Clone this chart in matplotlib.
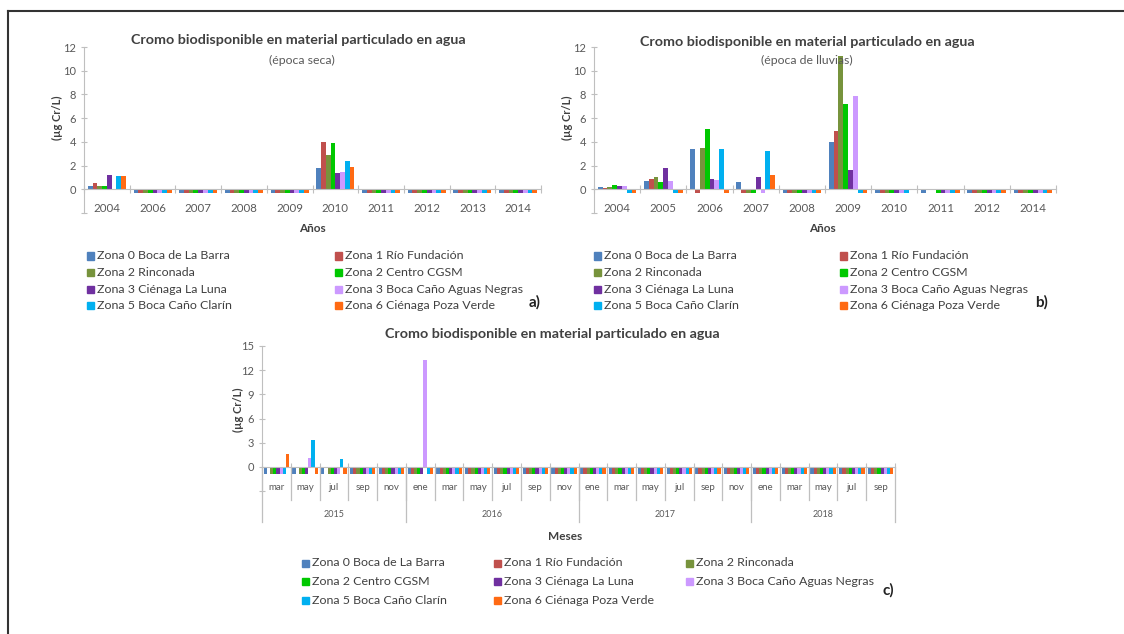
import matplotlib
matplotlib.use('Agg')
import matplotlib.pyplot as plt
from matplotlib.patches import Rectangle
import numpy as np

plt.rcParams['font.family'] = ['Lato', 'DejaVu Sans']

ZONES = ['Zona 0 Boca de La Barra', 'Zona 1 Río Fundación', 'Zona 2 Rinconada',
         'Zona 2 Centro CGSM', 'Zona 3 Ciénaga La Luna', 'Zona 3 Boca Caño Aguas Negras',
         'Zona 5 Boca Caño Clarín', 'Zona 6 Ciénaga Poza Verde']
COLORS = ['#4F81BD', '#C0504D', '#77933C', '#00C800', '#7030A0', '#CC99FF', '#00B0F0', '#FF6A13']

# a) epoca seca
years_a = ['2004', '2006', '2007', '2008', '2009', '2010', '2011', '2012', '2013', '2014']
seca = [
    [0.3, -0.3, -0.3, -0.3, -0.3, 1.8, -0.3, -0.3, -0.3, -0.3],
    [0.5, -0.3, -0.3, -0.3, -0.3, 4.0, -0.3, -0.3, -0.3, -0.3],
    [0.3, -0.3, -0.3, -0.3, -0.3, 2.9, -0.3, -0.3, -0.3, -0.3],
    [0.3, -0.3, -0.3, -0.3, -0.3, 3.9, -0.3, -0.3, -0.3, -0.3],
    [1.2, -0.3, -0.3, -0.3, -0.3, 1.4, -0.3, -0.3, -0.3, -0.3],
    [0.0, -0.3, -0.3, -0.3, -0.3, 1.5, -0.3, -0.3, -0.3, -0.3],
    [1.1, -0.3, -0.3, -0.3, -0.3, 2.4, -0.3, -0.3, -0.3, -0.3],
    [1.1, -0.3, -0.3, -0.3, -0.3, 1.9, -0.3, -0.3, -0.3, -0.3],
]

# b) epoca de lluvias
years_b = ['2004', '2005', '2006', '2007', '2008', '2009', '2010', '2011', '2012', '2014']
lluvias = [
    [0.2, 0.7, 3.4, 0.6, -0.3, 4.0, -0.3, -0.3, -0.3, -0.3],
    [0.1, 0.9, -0.3, -0.3, -0.3, 4.9, -0.3, 0.0, -0.3, -0.3],
    [0.2, 1.0, 3.5, -0.3, -0.3, 11.2, -0.3, 0.0, -0.3, -0.3],
    [0.4, 0.6, 5.1, -0.3, -0.3, 7.2, -0.3, -0.3, -0.3, -0.3],
    [0.3, 1.8, 0.9, 1.0, -0.3, 1.6, -0.3, -0.3, -0.3, -0.3],
    [0.3, 0.7, 0.8, -0.3, -0.3, 7.9, -0.3, -0.3, -0.3, -0.3],
    [-0.3, -0.3, 3.4, 3.2, -0.3, -0.3, -0.3, -0.3, -0.3, -0.3],
    [-0.3, -0.3, -0.3, 1.2, -0.3, -0.3, 0.0, -0.3, -0.3, -0.3],
]

# c) mensual 2015-2018
years_c = ['2015', '2016', '2017', '2018']
months_c = [['mar', 'may', 'jul', 'sep', 'nov'],
            ['ene', 'mar', 'may', 'jul', 'sep', 'nov'],
            ['ene', 'mar', 'may', 'jul', 'sep', 'nov'],
            ['ene', 'mar', 'may', 'jul', 'sep']]
mensual = [
    [-0.9, -0.9, -0.9, -0.9, -0.9, -0.9, -0.9, -0.9, -0.9, -0.9, -0.9,
     -0.9, -0.9, -0.9, -0.9, -0.9, -0.9, -0.9, -0.9, -0.9, -0.9, -0.9],
    [0.0, 0.0, 0.0, -0.9, -0.9, -0.9, -0.9, -0.9, -0.9, -0.9, -0.9,
     -0.9, -0.9, -0.9, -0.9, -0.9, -0.9, -0.9, -0.9, -0.9, -0.9, -0.9],
    [-0.9, -0.9, -0.9, -0.9, -0.9, -0.9, -0.9, -0.9, -0.9, -0.9, -0.9,
     -0.9, -0.9, -0.9, -0.9, -0.9, -0.9, -0.9, -0.9, -0.9, -0.9, -0.9],
    [-0.9, -0.9, -0.9, -0.9, -0.9, -0.9, -0.9, -0.9, -0.9, -0.9, -0.9,
     -0.9, -0.9, -0.9, -0.9, -0.9, -0.9, -0.9, -0.9, -0.9, -0.9, -0.9],
    [-0.9, -0.9, -0.9, -0.9, -0.9, -0.9, -0.9, -0.9, -0.9, -0.9, -0.9,
     -0.9, -0.9, -0.9, -0.9, -0.9, -0.9, -0.9, -0.9, -0.9, -0.9, -0.9],
    [-0.9, 1.1, -0.9, -0.9, -0.9, 13.3, -0.9, -0.9, -0.9, -0.9, -0.9,
     -0.9, -0.9, -0.9, -0.9, -0.9, -0.9, -0.9, -0.9, -0.9, -0.9, -0.9],
    [-0.9, 3.3, 1.0, -0.9, -0.9, -0.9, -0.9, -0.9, -0.9, -0.9, -0.9,
     -0.9, -0.9, -0.9, -0.9, -0.9, -0.9, -0.9, -0.9, -0.9, -0.9, -0.9],
    [1.6, -0.9, -0.9, -0.9, -0.9, -0.9, -0.9, -0.9, -0.9, -0.9, -0.9,
     -0.9, -0.9, -0.9, -0.9, -0.9, -0.9, -0.9, -0.9, -0.9, -0.9, -0.9],
]

AXIS = '#BFBFBF'
TXT = '#595959'
DARK = '#404040'
W, H = 1124, 634


def px(x, y):
    return x / W, 1 - y / H


def bars(ax, series, width):
    n = len(series[0])
    x = np.arange(n)
    for i, vals in enumerate(series):
        off = (i - 3.5) * width
        ax.bar(x + off, vals, width, color=COLORS[i], linewidth=0)
    ax.set_xlim(-0.5, n - 0.5)


def style(ax, ticks, ymin, ymax):
    ax.set_ylim(ymin, ymax)
    for s in ['top', 'right']:
        ax.spines[s].set_visible(False)
    ax.spines['left'].set_color(AXIS)
    ax.spines['bottom'].set_color(AXIS)
    ax.spines['bottom'].set_position(('data', 0))
    ax.set_yticks(ticks)
    ax.set_yticklabels([str(t) if t >= 0 else '' for t in ticks])
    ax.tick_params(axis='y', colors=AXIS, labelcolor=TXT, labelsize=8,
                   direction='inout', length=5, pad=3)
    n = int(round(ax.get_xlim()[1] + 0.5))
    ax.set_xticks(np.arange(-0.5, n, 1.0))
    ax.set_xticklabels([])
    ax.tick_params(axis='x', colors=AXIS, direction='inout', length=6)
    ax.patch.set_alpha(0)


def legend(fig, cols, x0, dx, y0, dy):
    for i, (name, c) in enumerate(zip(ZONES, COLORS)):
        r, k = i // cols, i % cols
        x, y = x0 + k * dx, y0 + r * dy
        fx, fy = px(x, y + 3.5)
        fig.patches.append(Rectangle((fx, fy), 7 / W, 7 / H, color=c,
                                     transform=fig.transFigure, figure=fig))
        tx, ty = px(x + 10, y)
        fig.text(tx, ty, name, fontsize=8.9, color=DARK, va='center', ha='left')


fig = plt.figure(figsize=(11.24, 6.34), dpi=100)

# frame of the page
fig.add_artist(plt.Line2D([8 / W, 8 / W], [0, 1 - 11 / H], color='#333333',
                          lw=1.5, transform=fig.transFigure))
fig.add_artist(plt.Line2D([8 / W, 1], [1 - 11 / H, 1 - 11 / H], color='#333333',
                          lw=1.5, transform=fig.transFigure))

title = 'Cromo biodisponible en material particulado en agua'
ylab = '(µg Cr/L)'

# --- a) ---
ax1 = fig.add_axes([84 / W, 1 - 213 / H, 457 / W, 166 / H])
bars(ax1, seca, 0.104)
style(ax1, list(range(-2, 13, 2)), -2, 12)
for i, yr in enumerate(years_a):
    ax1.text(i, -1.65, yr, ha='center', va='center', fontsize=8.3, color=TXT)
fig.text(*px(298, 40), title, ha='center', va='center', fontsize=10.3,
         fontweight='bold', color=DARK)
fig.text(*px(302, 60), '(época seca)', ha='center', va='center', fontsize=8.8, color=TXT)
fig.text(*px(57, 118), ylab, ha='center', va='center', rotation=90, fontsize=8,
         fontweight='bold', color=DARK)
fig.text(*px(312, 229), 'Años', ha='center', va='center', fontsize=8.5,
         fontweight='bold', color=DARK)
legend(fig, 2, 87, 248, 256, 16.5)
fig.text(*px(535, 302), 'a)', ha='center', va='center', fontsize=11,
         fontweight='bold', color='#222222')

# --- b) ---
ax2 = fig.add_axes([594 / W, 1 - 213 / H, 462 / W, 166 / H])
bars(ax2, lluvias, 0.104)
style(ax2, list(range(-2, 13, 2)), -2, 12)
for i, yr in enumerate(years_b):
    ax2.text(i, -1.65, yr, ha='center', va='center', fontsize=8.3, color=TXT)
fig.text(*px(807, 42), title, ha='center', va='center', fontsize=10.3,
         fontweight='bold', color=DARK)
fig.text(*px(807, 60), '(época de lluvias)', ha='center', va='center', fontsize=8.8,
         color=TXT)
fig.text(*px(567, 118), ylab, ha='center', va='center', rotation=90, fontsize=8,
         fontweight='bold', color=DARK)
fig.text(*px(822, 229), 'Años', ha='center', va='center', fontsize=8.5,
         fontweight='bold', color=DARK)
legend(fig, 2, 594, 246, 256, 16.5)
fig.text(*px(1042, 302), 'b)', ha='center', va='center', fontsize=11,
         fontweight='bold', color='#222222')

# --- c) ---
ax3 = fig.add_axes([262 / W, 1 - 491 / H, 633 / W, 145 / H])
bars(ax3, mensual, 0.11)
style(ax3, list(range(-3, 16, 3)), -3, 15)
pos = 0
edges = [-0.5]
for yr, ms in zip(years_c, months_c):
    for m in ms:
        ax3.text(pos, -2.6, m, ha='center', va='center', fontsize=7, color=TXT)
        if pos > 0:
            ax3.plot([pos - 0.5, pos - 0.5], [0, -4.1], color=AXIS, lw=0.9, clip_on=False)
        pos += 1
    ax3.text(pos - len(ms) / 2 - 0.5, -5.9, yr, ha='center', va='center',
             fontsize=6.5, color=TXT, clip_on=False)
    edges.append(pos - 0.5)
for e in edges:
    ax3.plot([e, e], [0, -6.9], color=AXIS, lw=0.9, clip_on=False)
fig.text(*px(552, 334), title, ha='center', va='center', fontsize=10.3,
         fontweight='bold', color=DARK)
fig.text(*px(238, 410), ylab, ha='center', va='center', rotation=90, fontsize=8,
         fontweight='bold', color=DARK)
fig.text(*px(565, 537), 'Meses', ha='center', va='center', fontsize=8.5,
         fontweight='bold', color=DARK)
legend(fig, 3, 302, 192, 563, 18.5)
fig.text(*px(888, 590), 'c)', ha='center', va='center', fontsize=11,
         fontweight='bold', color='#222222')

fig.savefig('out.png', dpi=100)
